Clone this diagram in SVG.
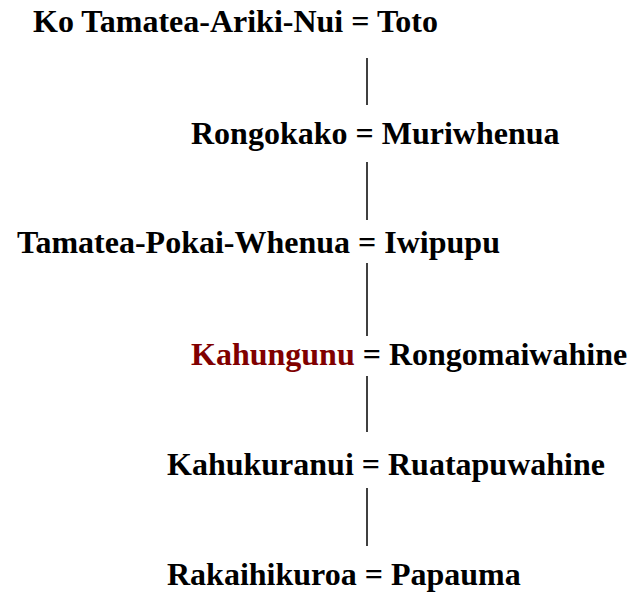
<svg xmlns="http://www.w3.org/2000/svg" width="629" height="592" viewBox="0 0 629 592">
<style>
text{font-family:"Liberation Serif","Times New Roman",serif;font-weight:bold;font-size:32px;fill:#000}
.red{fill:#800000}
line{stroke:#000;stroke-width:1.5}
</style>
<rect width="629" height="592" fill="#fff"/>
<g id="connectors">
<line x1="367" y1="58" x2="367" y2="105"/>
<line x1="367" y1="162" x2="367" y2="220"/>
<line x1="367" y1="263" x2="367" y2="336"/>
<line x1="367" y1="376" x2="367" y2="432"/>
<line x1="367" y1="488" x2="367" y2="546"/>
</g>
<g id="n1"><text x="33" y="32">Ko Tamatea-Ariki-Nui = Toto</text></g>
<g id="n2"><text x="191" y="144">Rongokako = Muriwhenua</text></g>
<g id="n3"><text x="17" y="253">Tamatea-Pokai-Whenua = Iwipupu</text></g>
<g id="n4"><text x="191" y="365"><tspan class="red">Kahungunu</tspan> = Rongomaiwahine</text></g>
<g id="n5"><text x="167" y="475">Kahukuranui = Ruatapuwahine</text></g>
<g id="n6"><text x="167" y="585">Rakaihikuroa = Papauma</text></g>
</svg>
